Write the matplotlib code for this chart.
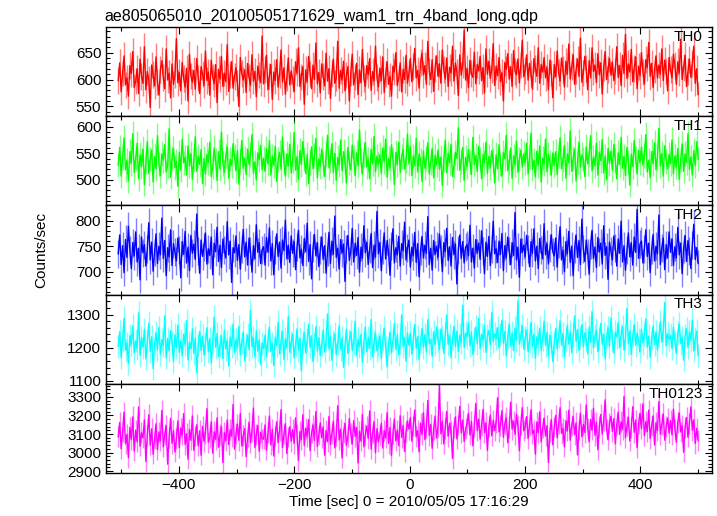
import matplotlib
matplotlib.use('Agg')
import matplotlib.pyplot as plt
import numpy as np
from matplotlib.ticker import MultipleLocator

plt.rcParams['font.family'] = ['Liberation Sans', 'DejaVu Sans']

# Light curves (counts/sec), 400 bins each from -505 s to 500 s
th0 = [598, 631, 577, 612, 644, 590, 603, 569, 626, 611, 652, 585, 597, 620, 574, 638, 606, 593, 661, 581,
       615, 600, 548, 627, 609, 588, 642, 596, 571, 618, 635, 604, 583, 657, 599, 612, 566, 629, 591, 608,
       676, 594, 613, 579, 632, 602, 586, 621, 560, 647, 607, 595, 617, 582, 639, 603, 574, 624, 610, 589,
       653, 598, 614, 571, 636, 605, 592, 628, 557, 619, 601, 643, 587, 612, 596, 665, 578, 609, 633, 584,
       606, 622, 593, 550, 641, 611, 599, 618, 576, 630, 604, 589, 646, 597, 615, 568, 625, 608, 594, 681,
       592, 619, 645, 581, 607, 628, 563, 614, 598, 637, 586, 609, 655, 595, 622, 573, 604, 640, 590, 616,
       601, 578, 633, 612, 659, 587, 605, 624, 554, 618, 596, 643, 610, 583, 627, 600, 668, 592, 613, 575,
       629, 606, 588, 649, 597, 620, 565, 611, 638, 593, 603, 671, 584, 617, 599, 634, 579, 608, 624, 560,
       613, 647, 590, 605, 630, 572, 618, 594, 656, 602, 587, 626, 609, 639, 580, 615, 597, 662, 604, 586,
       621, 598, 642, 576, 610, 633, 591, 606, 569, 625, 614, 650, 589, 603, 631, 577, 619, 600, 645, 593,
       612, 639, 596, 624, 658, 603, 617, 584, 632, 649, 609, 626, 591, 671, 615, 600, 637, 578, 621, 644,
       606, 629, 593, 655, 618, 601, 640, 587, 623, 612, 662, 597, 631, 614, 570, 646, 608, 627, 692, 599,
       620, 585, 636, 611, 604, 651, 592, 628, 616, 643, 598, 622, 575, 657, 610, 634, 602, 619, 667, 589,
       625, 607, 641, 596, 613, 560, 632, 619, 648, 601, 624, 587, 654, 615, 609, 638, 594, 627, 673, 605,
       617, 646, 599, 630, 611, 582, 639, 621, 606, 659, 593, 628, 614, 641, 603, 622, 581, 636, 612, 566,
       628, 605, 653, 613, 597, 640, 619, 586, 634, 610, 666, 601, 624, 646, 591, 617, 638, 606, 677, 595,
       612, 643, 620, 581, 635, 603, 659, 615, 627, 594, 648, 609, 631, 573, 622, 652, 600, 618, 639, 608,
       633, 598, 616, 661, 604, 626, 589, 645, 611, 684, 602, 629, 614, 656, 596, 621, 642, 583, 625, 607,
       650, 614, 592, 637, 622, 669, 606, 630, 585, 619, 644, 603, 627, 610, 657, 598, 636, 616, 579, 641,
       618, 603, 647, 626, 591, 633, 612, 675, 600, 623, 645, 587, 615, 638, 604, 629, 662, 593, 620, 572]

th1 = [528, 561, 507, 542, 579, 519, 536, 498, 553, 531, 587, 514, 540, 569, 502, 547, 525, 558, 491, 534,
       572, 512, 539, 556, 496, 544, 521, 583, 530, 508, 549, 537, 566, 515, 527, 596, 505, 541, 559, 523,
       535, 488, 552, 518, 576, 532, 543, 509, 564, 526, 550, 501, 538, 581, 516, 545, 529, 557, 493, 540,
       511, 548, 533, 571, 506, 524, 560, 537, 499, 553, 520, 590, 531, 514, 546, 562, 503, 539, 527, 568,
       544, 517, 555, 492, 536, 574, 522, 541, 510, 558, 529, 547, 585, 513, 534, 500, 551, 538, 565, 519,
       541, 516, 559, 530, 574, 509, 545, 527, 563, 497, 538, 552, 520, 581, 534, 507, 549, 526, 567, 513,
       536, 589, 518, 544, 501, 555, 529, 572, 539, 512, 548, 493, 533, 562, 521, 546, 578, 504, 540, 525,
       558, 531, 506, 547, 584, 523, 537, 568, 514, 550, 499, 542, 528, 575, 517, 553, 535, 494, 561, 532,
       519, 565, 543, 508, 551, 527, 594, 536, 511, 548, 570, 524, 539, 502, 557, 530, 582, 515, 545, 529,
       547, 512, 560, 534, 577, 505, 541, 523, 566, 538, 491, 552, 529, 571, 514, 544, 557, 520, 536, 586,
       530, 563, 508, 545, 526, 578, 515, 549, 537, 497, 554, 522, 540, 570, 511, 533, 559, 504, 546, 528,
       556, 520, 543, 489, 538, 575, 513, 550, 532, 567, 506, 527, 552, 541, 598, 518, 535, 561, 499, 542,
       525, 557, 534, 510, 580, 529, 546, 516, 563, 539, 502, 548, 531, 571, 512, 544, 523, 555, 536, 494,
       547, 521, 566, 530, 507, 552, 540, 584, 517, 533, 560, 503, 545, 528, 573, 514, 539, 556, 524, 549,
       532, 569, 511, 543, 588, 520, 537, 505, 554, 527, 564, 496, 541, 530, 577, 515, 548, 533, 509, 551,
       527, 553, 510, 546, 579, 521, 538, 565, 503, 549, 532, 592, 516, 541, 558, 498, 535, 571, 524, 547,
       539, 506, 562, 530, 548, 583, 517, 543, 526, 569, 509, 552, 536, 576, 513, 545, 500, 559, 531, 554,
       518, 567, 537, 502, 551, 529, 580, 522, 544, 508, 561, 534, 490, 548, 525, 574, 540, 511, 556, 533,
       562, 528, 546, 585, 515, 537, 504, 553, 531, 570, 519, 542, 597, 526, 550, 507, 564, 535, 521, 548,
       530, 575, 512, 545, 524, 559, 501, 538, 568, 516, 549, 533, 587, 520, 543, 509, 555, 527, 572, 539]

th2 = [735, 772, 714, 751, 698, 763, 728, 789, 742, 706, 757, 731, 778, 719, 746, 684, 768, 737, 753, 711,
       744, 796, 723, 758, 701, 739, 774, 716, 750, 733, 805, 726, 761, 692, 747, 729, 782, 712, 755, 738,
       721, 766, 743, 688, 759, 734, 779, 717, 748, 702, 771, 736, 754, 724, 813, 741, 697, 762, 730, 749,
       776, 715, 745, 732, 768, 694, 756, 739, 787, 720, 752, 708, 764, 742, 727, 798, 733, 760, 679, 747,
       737, 770, 722, 753, 705, 744, 783, 729, 758, 713, 766, 740, 699, 751, 725, 792, 738, 757, 716, 743,
       749, 713, 767, 738, 786, 721, 755, 694, 743, 774, 730, 758, 707, 762, 741, 801, 725, 752, 718, 770,
       736, 759, 704, 748, 781, 727, 744, 712, 765, 739, 795, 720, 753, 686, 746, 773, 731, 757, 710, 742,
       768, 724, 751, 697, 739, 777, 716, 760, 734, 809, 728, 746, 705, 763, 737, 754, 681, 745, 771, 722,
       740, 785, 719, 756, 732, 767, 699, 748, 726, 790, 737, 758, 714, 744, 775, 708, 752, 729, 818, 735,
       757, 702, 743, 776, 725, 761, 738, 693, 750, 784, 717, 747, 733, 769, 711, 755, 741, 797, 723, 746,
       762, 709, 748, 731, 777, 718, 755, 690, 741, 769, 727, 752, 736, 808, 714, 746, 703, 761, 734, 750,
       728, 774, 745, 700, 757, 739, 785, 722, 749, 711, 767, 733, 754, 676, 743, 772, 726, 759, 717, 748,
       753, 731, 791, 719, 746, 707, 763, 737, 756, 724, 780, 741, 696, 758, 730, 769, 712, 744, 799, 735,
       745, 718, 760, 734, 775, 702, 751, 727, 768, 740, 714, 757, 732, 816, 723, 748, 689, 764, 738, 752,
       729, 771, 744, 710, 759, 736, 784, 721, 750, 706, 765, 742, 725, 794, 733, 755, 715, 747, 772, 739,
       731, 766, 709, 754, 788, 723, 742, 700, 759, 735, 779, 718, 750, 692, 745, 772, 728, 761, 714, 803,
       744, 720, 762, 737, 695, 753, 781, 726, 748, 708, 767, 739, 756, 715, 790, 732, 749, 685, 758, 741,
       723, 770, 747, 711, 764, 736, 799, 719, 751, 703, 742, 776, 729, 757, 713, 768, 738, 822, 726, 754,
       760, 717, 745, 782, 730, 756, 698, 743, 773, 721, 750, 735, 811, 714, 747, 766, 704, 753, 727, 778,
       738, 764, 712, 749, 727, 787, 733, 756, 696, 745, 771, 720, 761, 740, 706, 752, 793, 724, 747, 716]

th3 = [1205, 1248, 1171, 1226, 1289, 1193, 1214, 1152, 1237, 1209, 1266, 1184, 1221, 1198, 1305, 1177, 1231, 1202, 1255, 1166,
       1218, 1274, 1189, 1233, 1137, 1212, 1245, 1195, 1261, 1180, 1224, 1207, 1296, 1169, 1228, 1191, 1252, 1215, 1159, 1239,
       1200, 1268, 1186, 1222, 1176, 1241, 1211, 1282, 1163, 1216, 1197, 1257, 1183, 1229, 1125, 1206, 1249, 1192, 1235, 1178,
       1213, 1260, 1188, 1227, 1154, 1219, 1292, 1201, 1243, 1173, 1208, 1236, 1167, 1253, 1196, 1220, 1145, 1232, 1204, 1271,
       1185, 1225, 1199, 1264, 1179, 1217, 1246, 1161, 1210, 1238, 1194, 1312, 1203, 1230, 1172, 1251, 1190, 1223, 1149, 1214,
       1197, 1238, 1174, 1222, 1261, 1189, 1213, 1146, 1232, 1206, 1277, 1181, 1219, 1250, 1165, 1227, 1199, 1294, 1186, 1215,
       1242, 1170, 1208, 1257, 1193, 1228, 1130, 1216, 1246, 1184, 1223, 1271, 1201, 1236, 1158, 1211, 1263, 1190, 1230, 1176,
       1209, 1253, 1187, 1224, 1302, 1196, 1234, 1162, 1218, 1243, 1179, 1212, 1267, 1194, 1229, 1141, 1207, 1256, 1183, 1221,
       1248, 1192, 1214, 1279, 1175, 1226, 1203, 1240, 1156, 1217, 1262, 1188, 1231, 1198, 1285, 1172, 1220, 1245, 1191, 1210,
       1235, 1168, 1225, 1259, 1200, 1143, 1213, 1247, 1186, 1222, 1273, 1195, 1239, 1178, 1216, 1299, 1204, 1231, 1160, 1244,
       1207, 1244, 1181, 1228, 1270, 1198, 1234, 1165, 1219, 1258, 1202, 1240, 1187, 1285, 1212, 1225, 1174, 1248, 1209, 1263,
       1221, 1195, 1256, 1230, 1183, 1242, 1299, 1210, 1236, 1170, 1227, 1265, 1204, 1250, 1189, 1238, 1216, 1328, 1201, 1244,
       1232, 1275, 1206, 1247, 1179, 1226, 1262, 1213, 1289, 1197, 1240, 1222, 1268, 1186, 1235, 1252, 1208, 1307, 1219, 1243,
       1227, 1261, 1199, 1239, 1283, 1214, 1249, 1176, 1231, 1272, 1205, 1245, 1191, 1259, 1223, 1341, 1211, 1237, 1266, 1196,
       1229, 1254, 1188, 1220, 1277, 1203, 1241, 1168, 1233, 1212, 1259, 1192, 1226, 1280, 1207, 1246, 1175, 1238, 1215, 1158,
       1215, 1258, 1196, 1234, 1281, 1207, 1243, 1173, 1226, 1267, 1211, 1249, 1185, 1238, 1296, 1219, 1255, 1192, 1230, 1270,
       1203, 1245, 1224, 1182, 1262, 1216, 1309, 1199, 1237, 1253, 1188, 1228, 1274, 1210, 1241, 1167, 1233, 1260, 1205, 1290,
       1221, 1184, 1247, 1232, 1276, 1200, 1239, 1264, 1193, 1229, 1318, 1212, 1251, 1180, 1236, 1269, 1208, 1244, 1223, 1187,
       1256, 1214, 1240, 1287, 1202, 1235, 1171, 1228, 1265, 1209, 1248, 1193, 1233, 1279, 1217, 1252, 1336, 1206, 1242, 1225,
       1238, 1198, 1261, 1219, 1184, 1244, 1271, 1213, 1230, 1162, 1236, 1258, 1201, 1247, 1222, 1283, 1190, 1227, 1250, 1176]

th0123 = [3085, 3162, 3021, 3114, 3218, 3047, 3098, 2973, 3136, 3069, 3192, 3008, 3121, 3058, 3245, 3034, 3107, 3079, 3176, 2952,
          3093, 3203, 3040, 3128, 2991, 3072, 3155, 3016, 3111, 3063, 3227, 3031, 3099, 3145, 2938, 3082, 3184, 3050, 3119, 3003,
          3076, 3171, 3026, 3133, 3094, 3210, 3044, 3102, 2964, 3125, 3067, 3198, 3012, 3089, 3150, 3037, 3117, 2985, 3141, 3060,
          3104, 3236, 3055, 3081, 3166, 2997, 3112, 3071, 3187, 3029, 3096, 3139, 2946, 3108, 3064, 3176, 3042, 3123, 3088, 3259,
          3018, 3101, 3153, 3066, 3211, 3035, 3091, 3129, 2978, 3083, 3164, 3052, 3115, 3240, 3027, 3098, 3146, 3007, 3110, 3074,
          3072, 3149, 3013, 3108, 3197, 3041, 3125, 2981, 3090, 3166, 3054, 3117, 3231, 3027, 3100, 3156, 2995, 3084, 3139, 3061,
          3124, 3049, 3187, 3096, 2957, 3113, 3070, 3204, 3038, 3131, 3086, 3177, 3010, 3106, 3148, 3065, 3221, 3033, 3095, 3160,
          3080, 3138, 2986, 3119, 3058, 3195, 3043, 3103, 3169, 3025, 3092, 3252, 3068, 3127, 2971, 3110, 3157, 3039, 3085, 3183,
          3101, 3046, 3172, 3087, 3135, 2944, 3115, 3062, 3206, 3031, 3097, 3143, 3075, 3224, 3019, 3106, 3167, 2999, 3129, 3057,
          3093, 3158, 3024, 3118, 3078, 3215, 3049, 3136, 2983, 3104, 3181, 3063, 3122, 3037, 3199, 3081, 3147, 3006, 3112, 3170,
          3126, 3188, 3061, 3143, 3230, 3085, 3118, 3004, 3159, 3097, 3215, 3070, 3134, 3281, 3092, 3152, 3023, 3124, 3197, 3078,
          3140, 3363, 3101, 3169, 3046, 3131, 3222, 3087, 3158, 3115, 2968, 3137, 3192, 3073, 3149, 3249, 3106, 3175, 3060, 3128,
          3154, 3213, 3094, 3168, 3036, 3142, 3265, 3119, 3180, 3072, 3147, 3233, 3108, 3161, 3012, 3139, 3202, 3091, 3174, 3120,
          3163, 3296, 3111, 3145, 3226, 3083, 3157, 3187, 3052, 3134, 3271, 3126, 3170, 3098, 3208, 3144, 3010, 3151, 3243, 3117,
          3136, 3194, 3075, 3148, 3231, 3102, 3121, 2991, 3165, 3107, 3219, 3058, 3132, 3186, 3089, 3145, 2947, 3113, 3178, 3041,
          3138, 3201, 3079, 3155, 3242, 3104, 3129, 3030, 3172, 3116, 3228, 3066, 3146, 3193, 3096, 3160, 2987, 3122, 3213, 3085,
          3152, 3108, 3257, 3133, 3058, 3178, 3121, 3239, 3093, 3164, 3015, 3141, 3205, 3100, 3171, 3284, 3127, 3069, 3159, 3196,
          3114, 3183, 3047, 3150, 3218, 3098, 3166, 3124, 3302, 3081, 3143, 3190, 3062, 3135, 3247, 3109, 3175, 3026, 3156, 3211,
          3130, 3262, 3090, 3168, 3113, 3229, 3076, 3147, 3196, 3040, 3161, 3118, 3275, 3099, 3153, 3208, 3067, 3140, 3186, 3105,
          3172, 3095, 3234, 3127, 3056, 3163, 3214, 3111, 3144, 3002, 3137, 3189, 3083, 3158, 3246, 3120, 3176, 3049, 3131, 3064]

bands  = ['TH0', 'TH1', 'TH2', 'TH3', 'TH0123']
series = [th0, th1, th2, th3, th0123]
colors = ['#ff0000', '#00ff00', '#0000ff', '#00ffff', '#ff00ff']
ylims  = [(532, 698), (452, 620), (655, 830), (1091, 1360), (2889, 3370)]
majors = [50, 50, 50, 100, 100]
minors = [10, 10, 10, 20, 20]

t_start, t_stop = -505, 500

fig, axes = plt.subplots(5, 1, sharex=True, figsize=(7.17, 5.16), dpi=100)
fig.subplots_adjust(left=0.148, right=0.993, top=0.948, bottom=0.083, hspace=0)

for i in range(0, 5):
    ax = axes[i]
    y = np.array(series[i], dtype=float)
    t = np.linspace(t_start, t_stop, len(y))
    # Poisson error bars in a lighter shade, then the light curve itself
    ax.errorbar(t, y, yerr=np.sqrt(y), fmt='none', ecolor=colors[i], elinewidth=1.0, alpha=0.5)
    ax.plot(t, y, color=colors[i], lw=1.0)
    ax.set_xlim(-526, 524)
    ax.set_ylim(*ylims[i])
    ax.yaxis.set_major_locator(MultipleLocator(majors[i]))
    ax.yaxis.set_minor_locator(MultipleLocator(minors[i]))
    ax.xaxis.set_major_locator(MultipleLocator(200))
    ax.xaxis.set_minor_locator(MultipleLocator(100))
    ax.tick_params(which='both', direction='in', top=True, right=True, labelsize=11, colors='black')
    ax.tick_params(which='major', length=5, width=0.8)
    ax.tick_params(which='minor', length=3, width=0.8)
    for s in ax.spines.values():
        s.set_linewidth(1.0)
    ax.text(0.985, 0.97, bands[i], transform=ax.transAxes, ha='right', va='top', fontsize=11)

axes[0].set_title('ae805065010_20100505171629_wam1_trn_4band_long.qdp', loc='left', fontsize=11.5, pad=4, x=-0.003)
axes[-1].set_xlabel('Time [sec] 0 = 2010/05/05 17:16:29', fontsize=11, labelpad=2)
fig.text(0.058, 0.515, 'Counts/sec', rotation=90, ha='center', va='center', fontsize=11)

plt.savefig('out.png', dpi=100)
